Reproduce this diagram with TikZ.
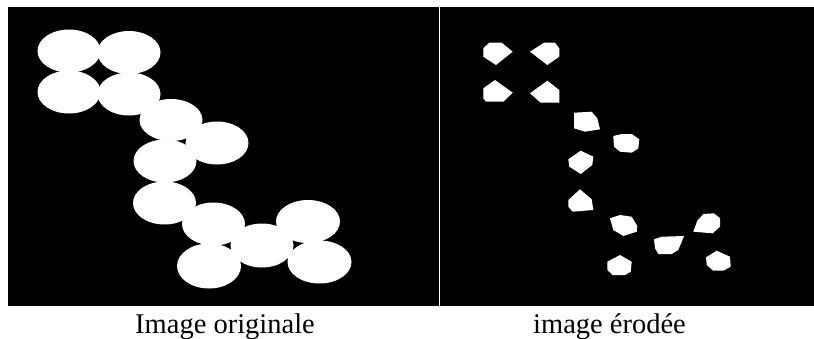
\documentclass[tikz,border=0pt]{standalone}
\usepackage{fontspec}
\setmainfont{Liberation Serif}

\tikzset{
    panneau/.style={fill=black},
    disque/.style={fill=white},
    tache/.style={fill=white},
    legende/.style={anchor=base, inner sep=0pt, font=\fontsize{28.5}{34}\selectfont}
}

\begin{document}
\begin{tikzpicture}[x=1pt, y=-1pt]
    % 0. Fond blanc, fixe aussi les marges
    \fill[white] (0,0) rectangle (814,338);
    \useasboundingbox (0,0) rectangle (814,338);

    % 1. Les deux panneaux noirs
    \fill[panneau] (8,7) rectangle (439,306);
    \fill[panneau] (440,7) rectangle (814,306);

    % 2. Image originale : 13 disques (aplatis)
    \fill[disque] (69,51) ellipse (31.5 and 21.5);
    \fill[disque] (129,52.5) ellipse (31.5 and 21.5);
    \fill[disque] (69,92) ellipse (31.5 and 21.5);
    \fill[disque] (129,94) ellipse (31.5 and 21.5);
    \fill[disque] (171,120) ellipse (31.5 and 21);
    \fill[disque] (217,143) ellipse (31.5 and 21.5);
    \fill[disque] (165,161) ellipse (31.5 and 21.5);
    \fill[disque] (164.5,203) ellipse (31.5 and 21.5);
    \fill[disque] (213.5,224) ellipse (31.5 and 21.5);
    \fill[disque] (262,245.5) ellipse (31.5 and 22);
    \fill[disque] (308,221.5) ellipse (32 and 21.5);
    \fill[disque] (209,266) ellipse (32 and 22.5);
    \fill[disque] (319.5,262) ellipse (32 and 21.5);

    % 3. Image erodee : ce qui reste de chaque disque
    \fill[tache] (483.3,48.3) -- (489.3,42.7) -- (501.7,42.7) -- (512.7,51.7) -- (496,65) -- (483.3,56.7) -- cycle;
    \fill[tache] (530,51.7) -- (544,42.7) -- (555,42.7) -- (559.3,48.3) -- (559.3,56.7) -- (547.3,65) -- cycle;
    \fill[tache] (483.3,88.3) -- (495,80) -- (512.7,92.7) -- (503.3,101.7) -- (486,101.7) -- (483.3,98.3) -- cycle;
    \fill[tache] (530,93.3) -- (547.3,80.7) -- (559.3,90) -- (559.3,102.7) -- (540.7,102.7) -- cycle;
    \fill[tache] (574,112.7) -- (591.7,111.7) -- (597.3,118.3) -- (600,129.3) -- (585,131.7) -- (574,128.3) -- cycle;
    \fill[tache] (613.3,136) -- (621.7,134) -- (631.7,134) -- (639.3,139.3) -- (638.3,148.3) -- (631.7,152.7) -- (620,151.7) -- (614,146.7) -- cycle;
    \fill[tache] (568.3,159.3) -- (580.7,150.7) -- (593.3,156.7) -- (592.3,165) -- (580.7,174) -- (569.3,166.7) -- cycle;
    \fill[tache] (568.3,200) -- (580,189.3) -- (591.7,199.3) -- (593.3,210) -- (572.7,211.7) -- (568.3,206.7) -- cycle;
    \fill[tache] (610,218.3) -- (620,215) -- (631.7,216.7) -- (637.3,226) -- (636.7,231.7) -- (623.3,236) -- (613.3,230) -- cycle;
    \fill[tache] (654,239.3) -- (661.7,236.7) -- (684,236) -- (678.3,250) -- (671.7,254) -- (658.3,254) -- (655,248.3) -- cycle;
    \fill[tache] (693.3,231.7) -- (697.3,220.7) -- (703.3,214) -- (714,213.3) -- (720,218.3) -- (720,226.7) -- (712.7,233.3) -- cycle;
    \fill[tache] (607.3,261.7) -- (620,255) -- (631.7,261.7) -- (630.7,271.7) -- (625,275) -- (612.7,275) -- (607.3,270) -- cycle;
    \fill[tache] (706,257.3) -- (716.7,250.7) -- (730,256.7) -- (730.7,266.7) -- (723.3,270.7) -- (713.3,270.7) -- (706.7,265) -- cycle;

    % 4. Legendes sous les panneaux
    \node[legende] (legorig) at (225,333) {Image originale};
    \node[legende] (legero) at (609.5,333) {image érodée};
\end{tikzpicture}
\end{document}
